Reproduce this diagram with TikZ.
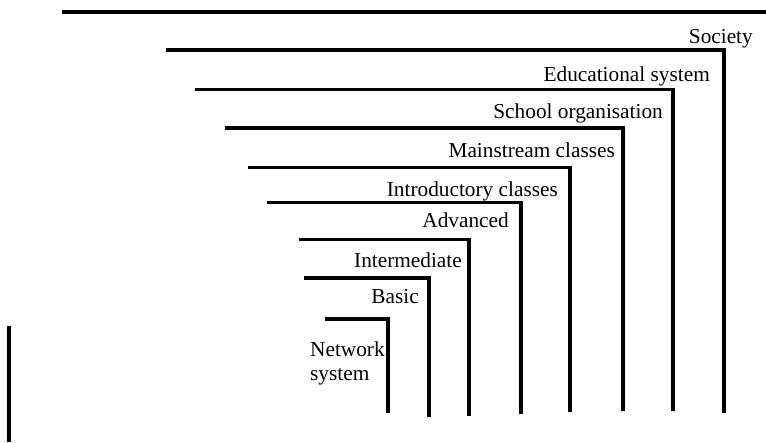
\documentclass[tikz,border=0pt]{standalone}
\usepackage{fontspec}
\setmainfont{Liberation Serif}
\begin{document}
\begin{tikzpicture}[x=1pt,y=-1pt,
  bar/.style={line width=3.2pt, line join=miter},
  lbl/.style={font=\fontsize{21.3}{23.5}\selectfont, inner sep=0pt, anchor=base east}]
\useasboundingbox (0,0) rectangle (766,442);
% top line and left bar
\coordinate (t0) at (62,11.5);
\coordinate (t1) at (766,11.5);
\draw[bar, line width=4pt] (t0) -- (t1);
\coordinate (l0) at (9,326);
\coordinate (l1) at (9,442);
\draw[bar] (l0) -- (l1);
% brackets: left end, corner, bottom
\foreach \n/\xl/\y/\xr/\yb in {
  1/166/50/724/413,
  2/195/89.5/673/411,
  3/225/128/623/411,
  4/248/167.5/570/412,
  5/267/202.5/521/414,
  6/299/239.5/469/416,
  7/304/278/429/417,
  8/325/319/388/413}{
  \coordinate (s\n) at (\xl,\y);
  \coordinate (c\n) at (\xr,\y);
  \coordinate (b\n) at (\xr,\yb);
  \draw[bar] (s\n) -- (c\n) -- (b\n);
}
% labels
\node[lbl] (society) at (753,43) {Society};
\node[lbl] (edu) at (710,81) {Educational system};
\node[lbl] (school) at (663,118.5) {School organisation};
\node[lbl] (main) at (615,157.5) {Mainstream classes};
\node[lbl] (intro) at (558,196) {Introductory classes};
\node[lbl] (adv) at (509,227) {Advanced};
\node[lbl] (inter) at (462,267) {Intermediate};
\node[lbl] (basic) at (419,303) {Basic};
\node[lbl, anchor=base west, align=left] (net) at (310,380) {Network\\system};
\end{tikzpicture}
\end{document}
